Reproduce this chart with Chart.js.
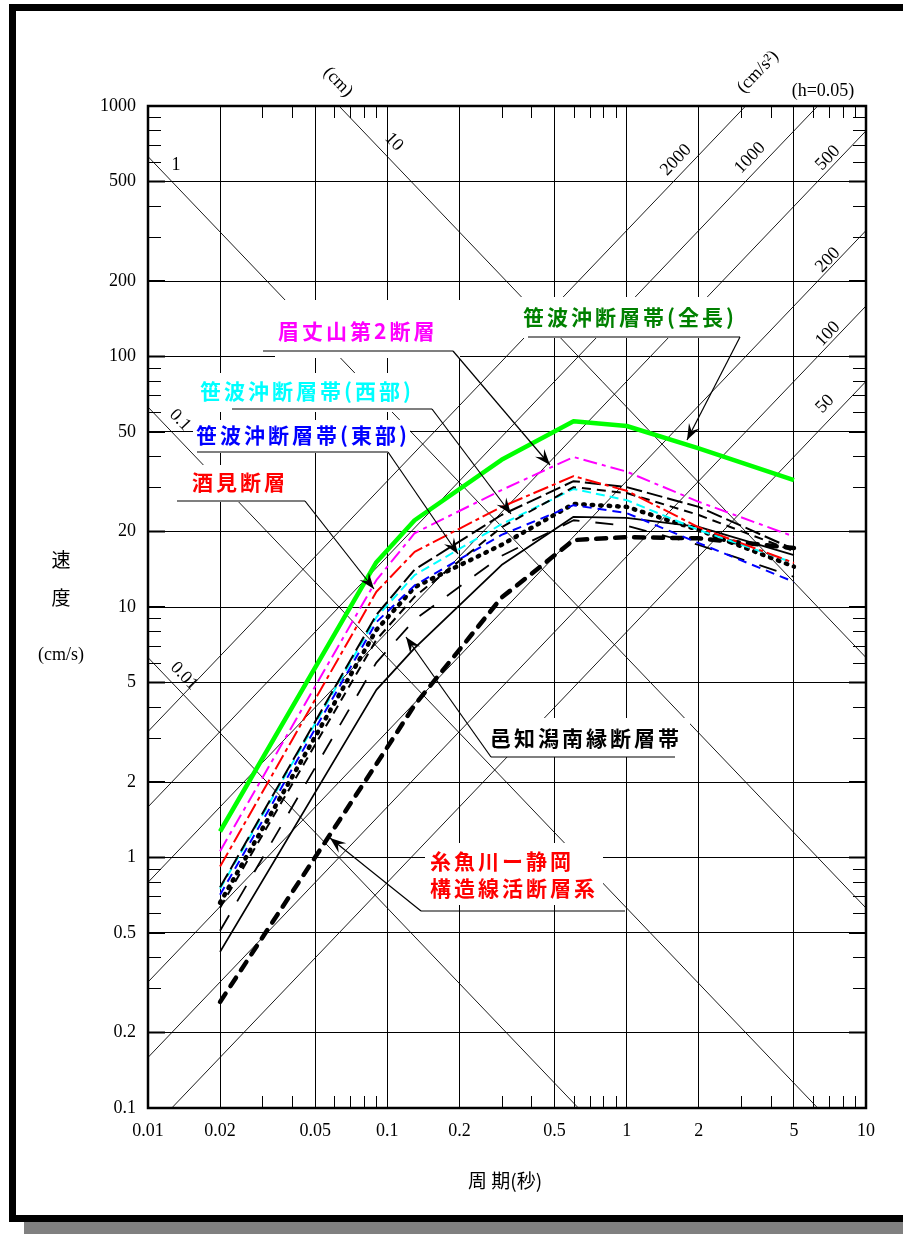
<!DOCTYPE html>
<html>
<head>
<meta charset="utf-8">
<script src="https://cdn.jsdelivr.net/npm/chart.js"></script>
<style>
  body { margin: 0; width: 903px; height: 1234px; overflow: hidden; background: #fff; position: relative; }
  .frame { position: absolute; left: 9px; top: 4px; width: 1000px; height: 1204px; border: 7px solid #000; box-shadow: 15px 12px 0 #808080; background: #fff; }
  #chart { position: absolute; left: 0; top: 0; }
</style>
</head>
<body>
<div class="frame"></div>
<canvas id="chart" width="903" height="1234"></canvas>
<script>
  // 周期 (秒) - control periods of each spectrum
  const periods = [0.02, 0.09, 0.13, 0.3, 0.6, 1.0, 2.0, 5.0];

  // 速度 (cm/s)
  const sasanamiZen  = [1.27, 15.1, 22.2, 38.7, 55.2, 52.8, 43.0, 32.1];
  const bijozan2     = [1.06, 12.8, 19.7, 29.3, 39.7, 34.7, 26.3, 19.1];
  const sakami       = [0.92, 11.5, 16.6, 25.1, 33.3, 29.1, 20.8, 15.0];
  const sasanamiWest = [0.75, 9.1, 13.4, 21.4, 29.6, 26.7, 20.3, 15.0];
  const sasanamiEast = [0.71, 8.7, 12.2, 19.4, 25.5, 23.7, 18.0, 12.6];
  const blackDashA   = [0.76, 9.3, 14.1, 23.3, 31.8, 30.1, 25.1, 17.0];
  const blackDashB   = [0.63, 7.4, 11.0, 20.8, 30.1, 28.5, 23.3, 16.7];
  const blackDot     = [0.66, 8.1, 12.0, 17.7, 25.8, 25.1, 20.3, 14.5];
  const blackSolid   = [0.42, 4.67, 6.85, 14.7, 22.9, 22.7, 20.9, 16.1];
  const blackLong    = [0.51, 6.0, 8.9, 16.0, 22.2, 21.1, 17.7, 13.2];
  const blackBold    = [0.265, 2.36, 4.06, 10.9, 18.5, 19.0, 18.8, 17.2];

  // tripartite guide lines
  const dispLines = [0.01, 0.1, 1, 10];            // 変位 cm
  const accLines = [50, 100, 200, 500, 1000, 2000]; // 加速度 cm/s2

  const xMajor = [0.01, 0.02, 0.05, 0.1, 0.2, 0.5, 1, 2, 5, 10];
  const xMinor = [0.03, 0.04, 0.06, 0.07, 0.08, 0.09, 0.3, 0.4, 0.6, 0.7, 0.8, 0.9, 3, 4, 6, 7, 8, 9];
  const yMajor = [0.1, 0.2, 0.5, 1, 2, 5, 10, 20, 50, 100, 200, 500, 1000];
  const yMinor = [0.3, 0.4, 0.6, 0.7, 0.8, 0.9, 3, 4, 6, 7, 8, 9, 30, 40, 60, 70, 80, 90, 300, 400, 600, 700, 800, 900];

  const TWO_PI = 2 * Math.PI;
  const SERIF = '"Liberation Serif", "DejaVu Serif", serif';
  const GOTHIC = '"Noto Sans CJK JP", sans-serif';

  function curve(vals, color, width, dash, cap) {
    return {
      data: periods.map((t, i) => ({ x: t, y: vals[i] })),
      borderColor: color, borderWidth: width, borderDash: dash || [],
      borderCapStyle: cap || 'butt', borderJoinStyle: 'round',
      showLine: true, pointRadius: 0, tension: 0, order: 0
    };
  }
  function guide(pts) {
    return { data: pts, borderColor: '#000', borderWidth: 0.9, showLine: true, pointRadius: 0, order: 10 };
  }

  const datasets = [
    curve(sasanamiZen, '#00ff00', 4.5),
    curve(bijozan2, '#ff00ff', 2, [14, 5, 4, 5]),
    curve(sakami, '#ff0000', 2, [16, 4, 4, 4]),
    curve(blackDashA, '#000', 2, [16, 5]),
    curve(blackDashB, '#000', 2, [9, 6]),
    curve(sasanamiWest, '#00ffff', 2, [9, 5]),
    curve(sasanamiEast, '#0000ff', 2, [9, 6]),
    curve(blackDot, '#000', 4.5, [1.5, 7], 'round'),
    curve(blackSolid, '#000', 1.8),
    curve(blackLong, '#000', 1.8, [18, 16]),
    curve(blackBold, '#000', 4.5, [10, 9], 'round')
  ];
  dispLines.forEach(d => datasets.push(guide([{ x: 0.01, y: TWO_PI * d / 0.01 }, { x: 10, y: TWO_PI * d / 10 }])));
  accLines.forEach(a => datasets.push(guide([{ x: 0.01, y: a * 0.01 / TWO_PI }, { x: 10, y: a * 10 / TWO_PI }])));

  // ラベル (pixel positions)
  const notes = [
    { lines: ['眉丈山第2断層'], color: '#ff00ff', x: 278, y: 331, box: [275, 300, 460, 358], under: [263, 351, 453], tip: [550, 465] },
    { lines: ['笹波沖断層帯(全長)'], color: '#008000', x: 523, y: 317, box: [518, 297, 748, 338], under: [528, 337, 740], tip: [687, 440] },
    { lines: ['笹波沖断層帯(西部)'], color: '#00ffff', x: 200, y: 391, box: [195, 373, 435, 412], under: [232, 409, 432], tip: [511, 514] },
    { lines: ['笹波沖断層帯(東部)'], color: '#0000ff', x: 196, y: 435, box: [193, 420, 410, 453], under: [197, 452, 388], tip: [458, 554] },
    { lines: ['酒見断層'], color: '#ff0000', x: 192, y: 482, box: [180, 465, 312, 502], under: [177, 501, 305], tip: [374, 589] },
    { lines: ['邑知潟南縁断層帯'], color: '#000', x: 490, y: 738, box: [485, 718, 690, 757], under: [491, 757, 675], tip: [406, 637], from: 'left' },
    { lines: ['糸魚川ー静岡', '構造線活断層系'], color: '#ff0000', x: 430, y: 861, box: [425, 843, 603, 905], under: [421, 911, 625], tip: [330, 838], from: 'left' }
  ];

  function arrow(ctx, x0, y0, x1, y1) {
    const dx = x1 - x0, dy = y1 - y0, len = Math.hypot(dx, dy);
    const ux = dx / len, uy = dy / len, nx = -uy, ny = ux;
    ctx.beginPath();
    ctx.moveTo(x0, y0); ctx.lineTo(x1, y1); ctx.stroke();
    ctx.beginPath();
    ctx.moveTo(x1, y1);
    ctx.lineTo(x1 - ux * 16 + nx * 6, y1 - uy * 16 + ny * 6);
    ctx.lineTo(x1 - ux * 10, y1 - uy * 10);
    ctx.lineTo(x1 - ux * 16 - nx * 6, y1 - uy * 16 - ny * 6);
    ctx.closePath();
    ctx.fill();
  }

  function rotText(ctx, txt, x, y, ang) {
    ctx.save();
    ctx.translate(x, y);
    ctx.rotate(ang);
    ctx.fillText(txt, 0, 0);
    ctx.restore();
  }

  const decor = {
    id: 'decor',
    afterDatasetsDraw(chart) {
      const { ctx, chartArea: a, scales: { x, y } } = chart;
      ctx.save();
      // minor ticks
      ctx.strokeStyle = '#000';
      ctx.lineWidth = 1;
      xMinor.forEach(v => {
        const px = Math.round(x.getPixelForValue(v)) + 0.5;
        ctx.beginPath();
        ctx.moveTo(px, a.bottom); ctx.lineTo(px, a.bottom - 12);
        ctx.moveTo(px, a.top); ctx.lineTo(px, a.top + 12);
        ctx.stroke();
      });
      yMinor.forEach(v => {
        const py = Math.round(y.getPixelForValue(v)) + 0.5;
        ctx.beginPath();
        ctx.moveTo(a.left, py); ctx.lineTo(a.left + 13, py);
        ctx.moveTo(a.right, py); ctx.lineTo(a.right - 13, py);
        ctx.stroke();
      });
      ctx.lineWidth = 2;
      yMajor.forEach(v => {
        const py = y.getPixelForValue(v);
        ctx.beginPath();
        ctx.moveTo(a.left, py); ctx.lineTo(a.left + 17, py);
        ctx.moveTo(a.right, py); ctx.lineTo(a.right - 17, py);
        ctx.stroke();
      });

      // fault labels
      notes.forEach(n => {
        const [bx0, by0, bx1, by1] = n.box;
        ctx.fillStyle = '#fff';
        ctx.fillRect(bx0, by0, bx1 - bx0, by1 - by0);
        ctx.fillStyle = n.color;
        ctx.font = 'bold 21px ' + GOTHIC;
        ctx.letterSpacing = '3px';
        ctx.textAlign = 'left';
        ctx.textBaseline = 'middle';
        n.lines.forEach((t, i) => ctx.fillText(t, n.x, n.y + i * 27));
        ctx.letterSpacing = '0px';
        ctx.strokeStyle = '#000';
        ctx.fillStyle = '#000';
        ctx.lineWidth = 1.2;
        const [ux0, uy, ux1] = n.under;
        ctx.beginPath();
        ctx.moveTo(ux0, uy); ctx.lineTo(ux1, uy); ctx.stroke();
        const sx = n.from === 'left' ? ux0 : ux1;
        arrow(ctx, sx, uy, n.tip[0], n.tip[1]);
      });

      // guide line labels
      const dxDec = x.getPixelForValue(10) - x.getPixelForValue(1);
      const dyDec = y.getPixelForValue(1) - y.getPixelForValue(10);
      const ang = Math.atan2(dyDec, dxDec);
      ctx.fillStyle = '#000';
      ctx.font = '18px ' + SERIF;
      ctx.textAlign = 'center';
      ctx.textBaseline = 'middle';
      ctx.fillText('1', 176, 165);
      rotText(ctx, '10', 394, 142, ang);
      rotText(ctx, '0.1', 180, 420, ang);
      rotText(ctx, '0.01', 184, 676, ang);
      rotText(ctx, '(cm)', 338, 82, ang);
      rotText(ctx, '2000', 676, 160, -ang);
      rotText(ctx, '1000', 750, 158, -ang);
      rotText(ctx, '500', 828, 158, -ang);
      rotText(ctx, '200', 828, 260, -ang);
      rotText(ctx, '100', 828, 334, -ang);
      rotText(ctx, '50', 825, 404, -ang);
      rotText(ctx, '(cm/s²)', 758, 72, -ang);
      ctx.fillText('(h=0.05)', 823, 91);

      // plot frame
      ctx.strokeStyle = '#000';
      ctx.lineWidth = 2.5;
      ctx.strokeRect(a.left, a.top, a.right - a.left, a.bottom - a.top);

      // axis titles
      ctx.fillStyle = '#000';
      ctx.textAlign = 'center';
      ctx.textBaseline = 'middle';
      ctx.font = '19px ' + GOTHIC;
      ctx.fillText('速', 61, 560);
      ctx.fillText('度', 61, 598);
      ctx.font = '18px ' + SERIF;
      ctx.fillText('(cm/s)', 61, 655);
      ctx.font = '19px ' + GOTHIC;
      ctx.fillText('周 期(秒)', 505, 1181);
      ctx.restore();
    }
  };

  const tickFont = { family: SERIF, size: 18 };

  new Chart(document.getElementById('chart'), {
    type: 'scatter',
    data: { datasets },
    options: {
      responsive: false,
      animation: false,
      devicePixelRatio: 1,
      layout: { padding: { left: 0, top: 106, right: 37, bottom: 0 } },
      plugins: { legend: { display: false }, tooltip: { enabled: false } },
      scales: {
        x: {
          type: 'logarithmic', min: 0.01, max: 10,
          afterBuildTicks: s => { s.ticks = xMajor.map(v => ({ value: v })); },
          afterFit: s => { s.height = 126; },
          ticks: { callback: v => String(v), font: tickFont, color: '#000', padding: 12, autoSkip: false, maxRotation: 0, minRotation: 0 },
          grid: { color: '#000', lineWidth: 1, drawTicks: false },
          border: { display: false }
        },
        y: {
          type: 'logarithmic', min: 0.1, max: 1000,
          afterBuildTicks: s => { s.ticks = yMajor.map(v => ({ value: v })); },
          afterFit: s => { s.width = 148; },
          ticks: { callback: v => String(v), font: tickFont, color: '#000', padding: 12, autoSkip: false },
          grid: { color: '#000', lineWidth: 1, drawTicks: false },
          border: { display: false }
        }
      }
    },
    plugins: [decor]
  });
</script>
</body>
</html>
